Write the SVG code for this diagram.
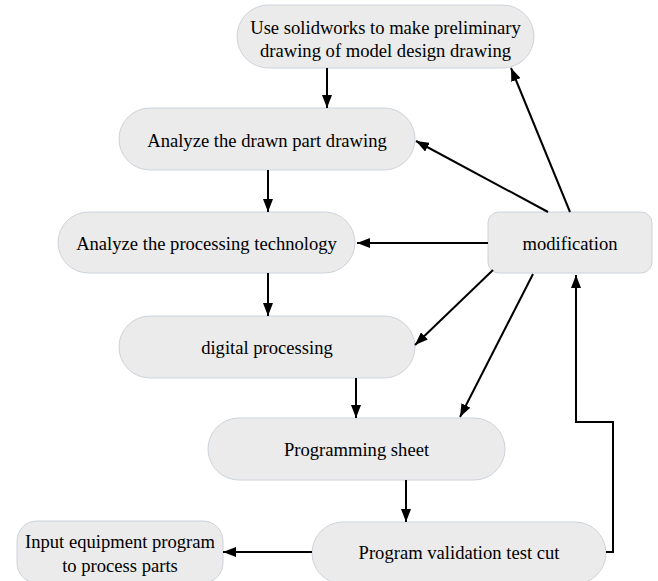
<svg xmlns="http://www.w3.org/2000/svg" width="658" height="581" viewBox="0 0 658 581">
<defs>
<marker id="ah" viewBox="0 0 13 10" refX="13" refY="5" markerWidth="13" markerHeight="10" markerUnits="userSpaceOnUse" orient="auto">
<path d="M0,0 L13,5 L0,10 Z" fill="#000"/>
</marker>
</defs>
<style>
.n{fill:#ebebeb;stroke:#cdd3da;stroke-width:1}
.t{font-family:"Liberation Serif","Times New Roman",serif;font-size:18.6px;fill:#000;text-anchor:middle;dominant-baseline:central}
.c{fill:none;stroke:#000;stroke-width:2}
.a{marker-end:url(#ah)}
</style>
<rect width="658" height="581" fill="#fff"/>
<g id="n1"><rect class="n" x="237" y="5" width="297" height="63" rx="31.5"/><text class="t" x="385.5" y="27">Use solidworks to make preliminary</text><text class="t" x="385.5" y="50">drawing of model design drawing</text></g>
<g id="n2"><rect class="n" x="119" y="108" width="296" height="62" rx="31"/><text class="t" x="267" y="140">Analyze the drawn part drawing</text></g>
<g id="n3"><rect class="n" x="58" y="212" width="297" height="61" rx="30.5"/><text class="t" x="206.5" y="243">Analyze the processing technology</text></g>
<g id="n4"><rect class="n" x="488" y="212" width="164" height="61" rx="11"/><text class="t" x="570" y="243">modification</text></g>
<g id="n5"><rect class="n" x="119" y="316" width="296" height="62" rx="31"/><text class="t" x="267" y="347">digital processing</text></g>
<g id="n6"><rect class="n" x="208" y="418" width="297" height="62" rx="31"/><text class="t" x="356.5" y="449">Programming sheet</text></g>
<g id="n7"><rect class="n" x="312" y="522" width="294" height="62" rx="31"/><text class="t" x="459" y="552">Program validation test cut</text></g>
<g id="n8"><rect class="n" x="17" y="521" width="206" height="62" rx="20"/><text class="t" x="120" y="541">Input equipment program</text><text class="t" x="120" y="565">to process parts</text></g>
<g id="connectors">
<line class="c a" x1="327" y1="68" x2="327" y2="108"/>
<line class="c a" x1="268" y1="170" x2="268" y2="212"/>
<line class="c a" x1="268" y1="273" x2="268" y2="316"/>
<line class="c a" x1="356" y1="378" x2="356" y2="418"/>
<line class="c a" x1="406" y1="480" x2="406" y2="522"/>
<line class="c a" x1="312" y1="552" x2="223" y2="552"/>
<polyline class="c a" points="606,552 613,552 613,422 576,422 576,275"/>
<line class="c a" x1="570" y1="212" x2="511" y2="68"/>
<line class="c a" x1="548" y1="212" x2="416" y2="141"/>
<line class="c a" x1="488" y1="243" x2="357" y2="243"/>
<line class="c a" x1="493" y1="270" x2="415" y2="345"/>
<line class="c a" x1="533" y1="274" x2="460" y2="417"/>
</g>
</svg>
